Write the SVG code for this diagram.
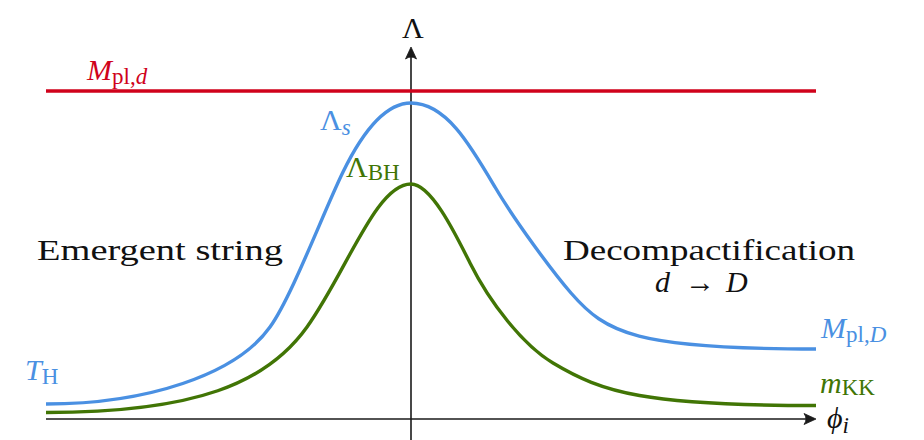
<svg xmlns="http://www.w3.org/2000/svg" width="924" height="440" viewBox="0 0 924 440">
<style>
.ax{stroke:#1a1a1a;stroke-width:1.6;fill:none}
.head{fill:#1a1a1a;stroke:#1a1a1a;stroke-width:0.8;stroke-linejoin:round}
.crv{fill:none;stroke-width:3.4;stroke-linecap:butt;stroke-linejoin:round}
text{font-family:'Liberation Serif', 'Times New Roman', 'DejaVu Serif', serif}
.t{font-size:30px}
.it{font-style:italic}
.sub{font-size:23px}
.blue{fill:#4A90E2}
.green{fill:#417505}
.red{fill:#D0021B}
.blk{fill:#111}
</style>
<rect width="924" height="440" fill="#fff"/>
<g id="axes">
<line class="ax" x1="411" y1="440" x2="411" y2="50"/>
<path class="head" d="M411,47 L405.5,59 Q411,55 416.5,59 Z"/>
<line class="ax" x1="46" y1="419" x2="813" y2="419"/>
<path class="head" d="M816,419 L804,413.5 Q808,419 804,424.5 Z"/>
</g>
<g id="curves">
<line class="crv" x1="46" y1="91" x2="816" y2="91" stroke="#D0021B" stroke-width="3"/>
<path id="blue" class="crv" stroke="#4A90E2" d="M46,404 C146,404 236,375 270,327 C292,296.2 323,213 343,172 C358,141.3 381,103 411,103 C446,103 470,144.5 495,187 C515,221 553,272.3 571,293 C606,333.25 636,349 816,349"/>
<path id="green" class="crv" stroke="#417505" d="M46,412.5 C196,412.5 267,383 307,327 C347,271 376,184 411,184 C431,184 455,233 470,263 C490,303 523,345 553,363 C603,393 646,405.5 816,405.5"/>
</g>
<g id="labels">
<text class="t blk" x="413" y="38" text-anchor="middle">Λ</text>
<text class="t blk it" x="827" y="428">ϕ<tspan class="sub" dy="5">i</tspan></text>
<text class="t red" x="87" y="80"><tspan class="it">M</tspan><tspan class="sub" dy="4">pl,</tspan><tspan class="sub it">d</tspan></text>
<text class="t blue" x="320" y="130">Λ<tspan class="sub it" dy="5">s</tspan></text>
<text class="t green" x="346" y="177">Λ<tspan class="sub" dy="3">BH</tspan></text>
<text class="t blk" x="37" y="260" textLength="246" lengthAdjust="spacingAndGlyphs">Emergent string</text>
<text class="t blk" x="563" y="260" textLength="292" lengthAdjust="spacingAndGlyphs">Decompactification</text>
<text class="t blk" y="292"><tspan class="it" x="655">d</tspan><tspan x="685">→</tspan><tspan class="it" x="726">D</tspan></text>
<text class="t blue" x="25" y="380"><tspan class="it">T</tspan><tspan class="sub" dy="4">H</tspan></text>
<text class="t blue" x="821" y="338"><tspan class="it">M</tspan><tspan class="sub" dy="4">pl,</tspan><tspan class="sub it">D</tspan></text>
<text class="t green" x="820" y="393"><tspan class="it">m</tspan><tspan class="sub" dy="2">KK</tspan></text>
</g>
</svg>
